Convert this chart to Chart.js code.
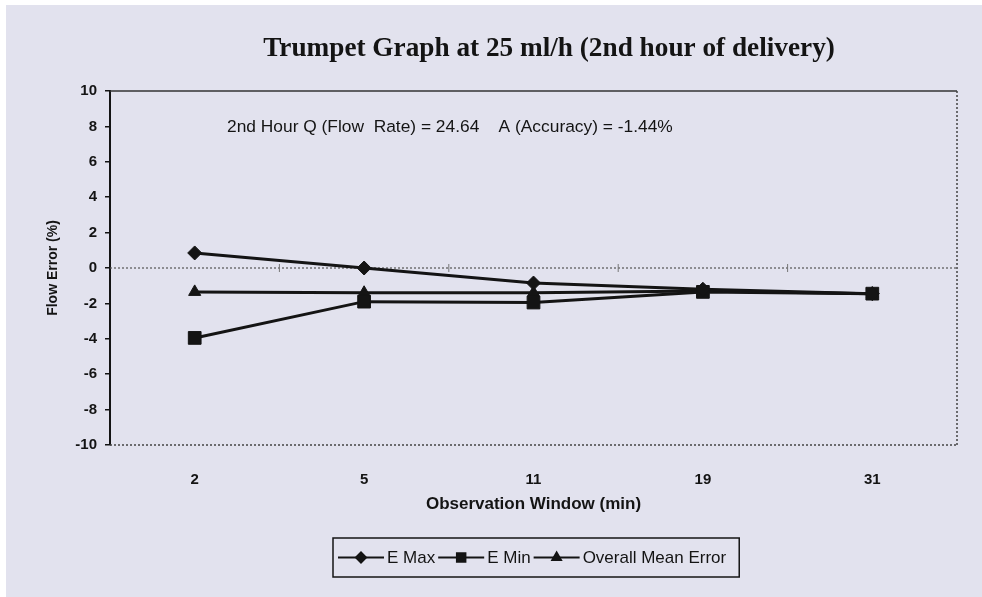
<!DOCTYPE html>
<html><head><meta charset="utf-8">
<script src="https://cdn.jsdelivr.net/npm/chart.js@4/dist/chart.umd.min.js"></script>
<style>html,body{margin:0;padding:0;background:#e2e2ee;overflow:hidden;} canvas{display:block;}</style>
</head><body>
<canvas id="c" width="982" height="597"></canvas>
<script>
// ---- data ----
const chartTitle = 'Trumpet Graph at 25 ml/h (2nd hour of delivery)';
const annotationText = '2nd Hour Q (Flow  Rate) = 24.64    A (Accuracy) = -1.44%';
const xAxisTitle = 'Observation Window (min)';
const yAxisTitle = 'Flow Error (%)';
const categories = ['2', '5', '11', '19', '31'];
const seriesNames = ['E Max', 'E Min', 'Overall Mean Error'];
const eMax = [0.85, 0.0, -0.85, -1.2, -1.45];
const eMin = [-3.95, -1.9, -1.95, -1.35, -1.45];
const meanError = [-1.35, -1.4, -1.4, -1.3, -1.45];
const yMin = -10, yMax = 10, yStep = 2;

const INK = '#141414';
const BG = '#e2e2ee';
const SANS = '"Liberation Sans", Arial, sans-serif';
const SERIF = '"Liberation Serif", "Times New Roman", serif';

function fitFont(ctx, text, weight, family, target) {
  ctx.font = weight + ' 100px ' + family;
  const w = ctx.measureText(text).width;
  return weight + ' ' + (100 * target / w).toFixed(2) + 'px ' + family;
}

const markerStyles = ['rectRot', 'rect', 'triangle'];
const markerRadius = [7, 9, 7];

const decor = {
  id: 'decor',
  beforeDraw(chart) {
    const ctx = chart.ctx;
    ctx.save();
    ctx.fillStyle = '#ffffff';
    ctx.fillRect(0, 0, chart.width, chart.height);
    ctx.fillStyle = BG;
    ctx.fillRect(6, 5, chart.width - 6, chart.height - 5);
    // title
    ctx.fillStyle = INK;
    ctx.font = fitFont(ctx, chartTitle, 'bold', SERIF, 572);
    ctx.textAlign = 'center';
    ctx.textBaseline = 'middle';
    ctx.fillText(chartTitle, 549, 49);
    ctx.restore();
  },
  beforeDatasetsDraw(chart) {
    const ctx = chart.ctx;
    const a = chart.chartArea;
    const xs = chart.scales.x, ys = chart.scales.y;
    ctx.save();
    ctx.strokeStyle = '#333';
    ctx.lineWidth = 1.5;
    ctx.beginPath();
    ctx.moveTo(a.left, a.top); ctx.lineTo(a.right, a.top);
    ctx.stroke();
    ctx.setLineDash([2, 2]);
    ctx.strokeStyle = '#444';
    ctx.beginPath();
    ctx.moveTo(a.right, a.top); ctx.lineTo(a.right, a.bottom);
    ctx.moveTo(a.left, a.bottom); ctx.lineTo(a.right, a.bottom);
    ctx.stroke();
    const y0 = ys.getPixelForValue(0);
    ctx.strokeStyle = '#555';
    ctx.lineWidth = 1.2;
    ctx.beginPath();
    ctx.moveTo(a.left, y0); ctx.lineTo(a.right, y0);
    ctx.stroke();
    ctx.setLineDash([]);
    ctx.strokeStyle = '#777';
    ctx.lineWidth = 1;
    ctx.beginPath();
    for (let i = 0; i < categories.length - 1; i++) {
      const xb = (xs.getPixelForValue(i) + xs.getPixelForValue(i + 1)) / 2;
      ctx.moveTo(xb, y0 - 4); ctx.lineTo(xb, y0 + 4);
    }
    ctx.stroke();
    ctx.fillStyle = INK;
    ctx.font = fitFont(ctx, annotationText, 'normal', SANS, 446);
    ctx.textAlign = 'left';
    ctx.textBaseline = 'middle';
    ctx.fillText(annotationText, 227, 127);
    ctx.restore();
  },
  afterDraw(chart) {
    const ctx = chart.ctx;
    ctx.save();
    const boxL = 333, boxT = 538, boxB = 577;
    const cy = (boxT + boxB) / 2;
    ctx.font = '17px ' + SANS;
    ctx.textBaseline = 'middle';
    ctx.textAlign = 'left';
    let x = boxL + 5;
    chart.data.datasets.forEach((ds, i) => {
      ctx.strokeStyle = INK;
      ctx.lineWidth = 2;
      ctx.beginPath();
      ctx.moveTo(x, cy); ctx.lineTo(x + 46, cy);
      ctx.stroke();
      ctx.fillStyle = INK;
      Chart.helpers.drawPoint(ctx, {pointStyle: markerStyles[i], radius: i === 1 ? 6 : 5, borderWidth: 1}, x + 23, cy);
      ctx.fill();
      x += 49;
      ctx.fillStyle = INK;
      ctx.fillText(ds.label, x, cy + 1);
      x += ctx.measureText(ds.label).width + 3;
    });
    const boxR = x + 10;
    ctx.strokeStyle = INK;
    ctx.lineWidth = 1.5;
    ctx.strokeRect(boxL, boxT, boxR - boxL, boxB - boxT);
    ctx.restore();
  }
};

const seriesData = [eMax, eMin, meanError];
const datasets = seriesData.map((d, i) => ({
  label: seriesNames[i],
  data: d,
  borderColor: INK,
  backgroundColor: INK,
  borderWidth: 3,
  pointStyle: markerStyles[i],
  pointRadius: markerRadius[i],
  pointHoverRadius: markerRadius[i],
  pointBorderWidth: 1,
  tension: 0,
  fill: false
}));

new Chart(document.getElementById('c'), {
  type: 'line',
  data: { labels: categories, datasets },
  options: {
    responsive: false,
    animation: false,
    devicePixelRatio: 1,
    layout: { padding: { top: 91, left: 0, right: 25, bottom: 80 } },
    plugins: { legend: { display: false }, title: { display: false }, tooltip: { enabled: false } },
    scales: {
      x: {
        type: 'category',
        offset: true,
        grid: { display: false, drawTicks: false },
        border: { display: false },
        ticks: { color: INK, font: { family: SANS, size: 15, weight: 'bold' }, padding: 26 },
        title: { display: true, text: xAxisTitle, color: INK, font: { family: SANS, size: 17, weight: 'bold' }, padding: { top: 0, bottom: 2 } },
        afterFit(s) { s.height = 72; }
      },
      y: {
        min: yMin, max: yMax,
        ticks: { stepSize: yStep, color: INK, font: { family: SANS, size: 15, weight: 'bold' }, padding: 8 },
        grid: { drawOnChartArea: false, drawTicks: true, tickLength: 5, color: INK, lineWidth: 1.5 },
        border: { display: true, color: INK, width: 2 },
        title: { display: true, text: yAxisTitle, color: INK, font: { family: SANS, size: 14, weight: 'bold' }, padding: { top: 45, bottom: 0 } },
        afterFit(s) { s.width = 110; }
      }
    }
  },
  plugins: [decor]
});
</script>
</body></html>
